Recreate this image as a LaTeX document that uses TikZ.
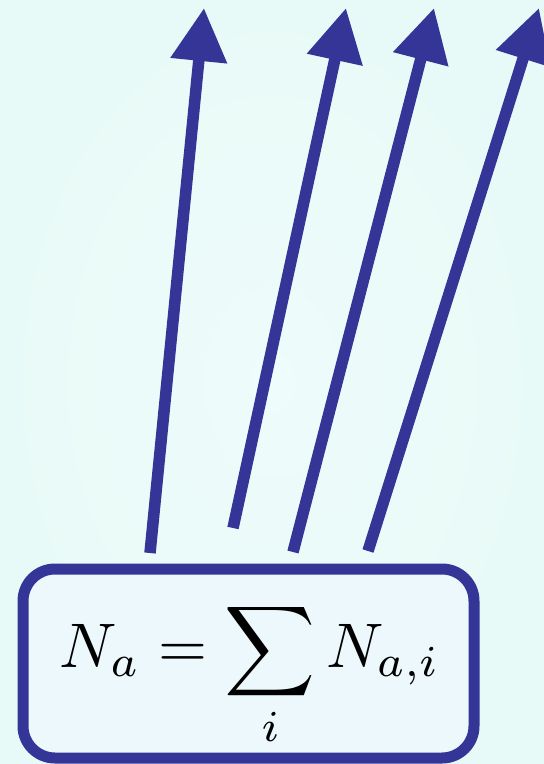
\documentclass[tikz,border=0pt]{standalone}
\usepackage{graphicx}
\usetikzlibrary{arrows.meta}
\definecolor{bgc}{RGB}{232,250,247}
\definecolor{bgin}{RGB}{238,252,251}
\definecolor{boxin}{RGB}{236,248,252}
\definecolor{arr}{RGB}{53,53,151}
\begin{document}
\begin{tikzpicture}[x=1pt,y=-1pt,
  flow/.style={draw=arr,line width=11.5pt,line cap=butt,-{Triangle[length=53pt,width=54pt]}},
  eqbox/.style={draw=arr,line width=11pt,fill=boxin,rounded corners=32pt}]
\shade[inner color=bgin,outer color=bgc] (0,0) rectangle (544,764);
\useasboundingbox (0,0) rectangle (544,764);
\filldraw[eqbox] (23,569) rectangle (474,758);
\node[inner sep=0pt,anchor=base] (eq) at (250,667)
  {\scalebox{6.3}{$\displaystyle N_a=\sum_i N_{a,i}$}};
\coordinate (s1) at (150,553);
\coordinate (t1) at (204,8);
\coordinate (s2) at (233,528);
\coordinate (t2) at (346,8);
\coordinate (s3) at (293,552);
\coordinate (t3) at (434,8);
\coordinate (s4) at (368,551);
\coordinate (t4) at (539,8);
\draw[flow] (s1) -- (t1);
\draw[flow] (s2) -- (t2);
\draw[flow] (s3) -- (t3);
\draw[flow] (s4) -- (t4);
\end{tikzpicture}
\end{document}
